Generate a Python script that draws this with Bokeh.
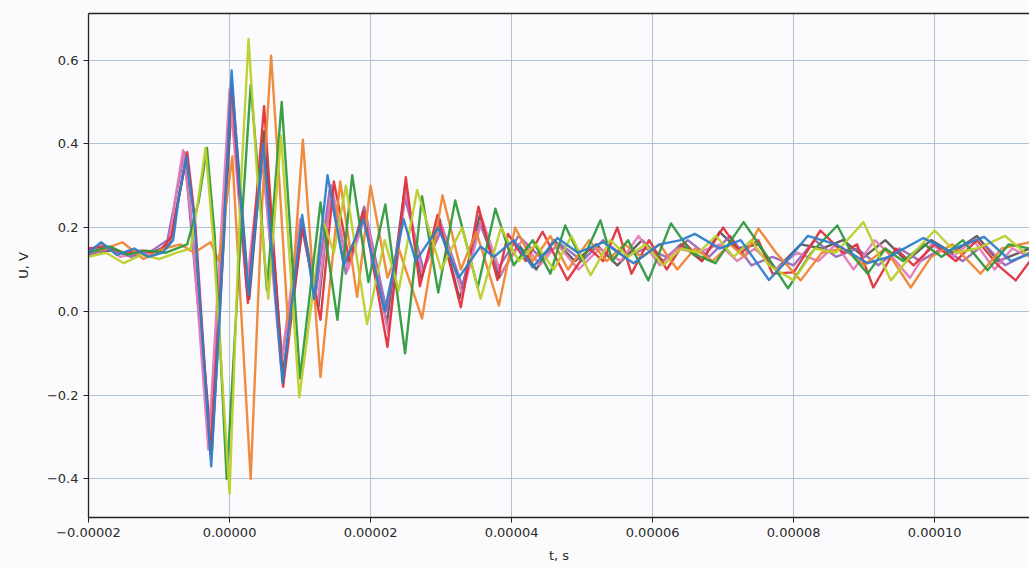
import numpy as np
from bokeh.plotting import figure
from bokeh.models import Range1d, FixedTicker, CustomJSTickFormatter, LinearAxis
from bokeh.embed import file_html
from bokeh.resources import INLINE

# ---- data (time in microseconds, voltage in V) ----
t_blue = [-20, -18.2, -16, -13.5, -11.5, -9.5, -8.0, -7.2, -6.1, -5.0, -2.6, -1.2, 0.3, 1.4, 2.7, 4.8, 7.5, 10.3, 12.0, 13.9,
          16.2, 19.0, 22.0, 24.7, 26.4, 29.6, 32.5, 35.6, 37.5, 40.3, 43.0, 46.5, 49.4, 53.0, 57.3, 61.0,
          64.0, 66.0, 69.5, 72.5, 76.5, 79.0, 82.0, 86.0, 90.5, 93.5, 98.4, 102.0, 107.0, 110.8, 113.5]
u_blue = [0.14, 0.165, 0.135, 0.15, 0.13, 0.14, 0.17, 0.27, 0.37, 0.22, -0.37, 0.05, 0.575, 0.30, 0.04, 0.40, -0.17, 0.23, 0.03, 0.325,
          0.11, 0.22, 0.00, 0.22, 0.12, 0.20, 0.08, 0.155, 0.13, 0.17, 0.105, 0.175, 0.14, 0.165, 0.115, 0.16,
          0.17, 0.185, 0.15, 0.17, 0.075, 0.12, 0.18, 0.16, 0.115, 0.13, 0.175, 0.145, 0.178, 0.12, 0.138]

t_red = [-20, -17.5, -15, -12.5, -10, -8.2, -7.1, -6.0, -4.9, -2.7, -1.3, 0.3, 1.4, 2.6, 4.9, 7.6, 10.3, 12.9, 14.8, 17.0, 19.0,
         22.4, 25.0, 27.0, 29.5, 32.8, 35.3, 38.0, 39.5, 42.0, 44.4, 47.9, 51.0, 53.0, 55.0, 57.0, 59.5,
         62.0, 64.5, 67.0, 70.0, 72.5, 75.0, 77.0, 80.0, 83.8, 87.0, 89.0, 91.3, 94.5, 97.0, 100.0, 103.0,
         106.0, 109.0, 111.5, 113.5]
u_red = [0.15, 0.155, 0.14, 0.145, 0.14, 0.18, 0.28, 0.38, 0.22, -0.34, 0.04, 0.55, 0.28, 0.02, 0.49, -0.18, 0.20, -0.02, 0.31, 0.12, 0.24,
         -0.085, 0.32, 0.06, 0.23, 0.01, 0.25, 0.075, 0.185, 0.12, 0.19, 0.075, 0.15, 0.12, 0.20, 0.09, 0.17,
         0.10, 0.165, 0.12, 0.20, 0.14, 0.17, 0.09, 0.093, 0.193, 0.14, 0.16, 0.057, 0.15, 0.11, 0.16, 0.12,
         0.17, 0.11, 0.074, 0.12]

t_pink = [-20, -18, -15.5, -13, -10.5, -8.5, -7.6, -6.6, -5.4, -3.0, 0.0, 2.4, 4.6, 7.3, 10.0, 12.5, 14.5, 16.8, 19.3,
          22.5, 25.0, 27.3, 30.0, 33.0, 35.8, 38.5, 41.5, 44.0, 46.5, 49.5, 52.5, 55.5, 58.0, 61.0, 63.5,
          66.5, 69.5, 72.0, 74.5, 77.5, 80.5, 83.5, 86.0, 88.5, 91.5, 94.0, 96.5, 99.5, 102.5, 105.5, 108.5,
          111.0, 113.5]
u_pink = [0.145, 0.16, 0.13, 0.14, 0.135, 0.17, 0.28, 0.385, 0.22, -0.33, 0.53, 0.06, 0.38, -0.13, 0.22, 0.02, 0.30, 0.10, 0.23,
          -0.05, 0.29, 0.09, 0.21, 0.04, 0.22, 0.09, 0.17, 0.11, 0.16, 0.10, 0.15, 0.12, 0.18, 0.11, 0.15,
          0.14, 0.16, 0.12, 0.15, 0.10, 0.14, 0.12, 0.16, 0.10, 0.17, 0.13, 0.08, 0.16, 0.13, 0.17, 0.10,
          0.15, 0.13]

t_purple = [-20, -17, -14, -11, -8.8, -6.4, -2.8, 0.2, 2.5, 4.7, 7.4, 10.2, 12.3, 14.2, 16.5, 19.1, 22.3,
            24.9, 27.5, 30.2, 33.0, 35.5, 38.0, 41.0, 44.0, 47.0, 50.0, 53.0, 56.0, 59.0, 62.0, 65.0, 68.0,
            71.0, 74.0, 77.0, 80.0, 83.0, 86.0, 89.0, 92.0, 95.0, 98.0, 101.0, 104.0, 107.0, 110.0, 113.5]
u_purple = [0.135, 0.15, 0.13, 0.145, 0.17, 0.38, -0.30, 0.50, 0.05, 0.36, -0.12, 0.21, 0.05, 0.29, 0.09, 0.25, 0.00,
            0.27, 0.10, 0.20, 0.06, 0.21, 0.10, 0.18, 0.13, 0.16, 0.12, 0.17, 0.13, 0.15, 0.13, 0.17, 0.13,
            0.18, 0.11, 0.13, 0.11, 0.17, 0.13, 0.15, 0.11, 0.15, 0.12, 0.15, 0.12, 0.16, 0.11, 0.14]

t_gray = [-20, -17, -14, -11, -8.5, -6.2, -2.5, 0.4, 2.8, 4.9, 7.6, 10.4, 12.6, 14.4, 16.6, 19.2, 22.3,
          24.9, 27.2, 29.8, 32.6, 35.5, 38.2, 41.0, 43.5, 46.0, 49.0, 52.0, 55.0, 58.5, 61.5, 64.0, 67.0,
          69.5, 72.0, 75.0, 77.5, 81.0, 84.0, 87.0, 90.0, 93.0, 96.0, 99.5, 102.5, 106.0, 109.0, 113.5]
u_gray = [0.14, 0.145, 0.135, 0.14, 0.16, 0.36, -0.33, 0.53, 0.03, 0.43, -0.15, 0.21, 0.01, 0.30, 0.12, 0.23, -0.03,
          0.30, 0.08, 0.22, 0.03, 0.23, 0.08, 0.16, 0.10, 0.17, 0.12, 0.16, 0.11, 0.17, 0.12, 0.16, 0.12,
          0.19, 0.15, 0.16, 0.10, 0.16, 0.15, 0.17, 0.13, 0.17, 0.12, 0.17, 0.14, 0.18, 0.12, 0.15]

t_green = [-20, -17, -14.5, -12, -9, -6.0, -4.4, -3.2, -2.1, -0.4, 1.3, 3.0, 4.2, 5.3, 7.4, 10.0, 12.9, 15.3, 17.4, 19.7, 22.1,
           24.9, 27.3, 29.6, 32.0, 35.2, 37.7, 40.3, 43.0, 45.5, 47.6, 50.0, 52.6, 54.3, 56.5, 59.4, 62.6,
           65.5, 68.9, 72.9, 75.5, 79.2, 82.5, 86.2, 88.5, 90.5, 93.0, 95.5, 98.5, 101.0, 104.0, 107.5,
           110.5, 113.5]
u_green = [0.14, 0.155, 0.135, 0.145, 0.14, 0.16, 0.26, 0.39, 0.18, -0.40, 0.10, 0.54, 0.30, 0.05, 0.50, -0.16, 0.26, -0.02, 0.325, 0.07, 0.255,
           -0.10, 0.275, 0.045, 0.265, 0.057, 0.245, 0.11, 0.17, 0.09, 0.205, 0.12, 0.217, 0.12, 0.17, 0.074, 0.21,
           0.14, 0.115, 0.213, 0.15, 0.055, 0.14, 0.205, 0.13, 0.09, 0.15, 0.12, 0.16, 0.13, 0.17, 0.098,
           0.16, 0.15]

t_olive = [-20, -17.5, -15, -12.5, -10, -7.5, -5.5, -4.5, -3.4, -2.3, 0.0, 1.6, 2.7, 3.9, 5.5, 7.3, 9.9, 13.2, 14.8, 16.5, 19.5,
           22.0, 24.0, 26.6, 30.0, 33.0, 35.6, 38.5, 41.0, 43.5, 46.0, 48.5, 51.2, 54.0, 56.5, 59.0, 61.5,
           64.0, 66.5, 69.0, 71.5, 74.0, 76.5, 80.0, 83.0, 86.0, 89.9, 93.8, 96.5, 100.0, 103.0, 106.0,
           110.0, 113.5]
u_olive = [0.13, 0.14, 0.115, 0.135, 0.125, 0.14, 0.15, 0.26, 0.39, 0.17, -0.435, 0.30, 0.65, 0.33, 0.03, 0.42, -0.205, 0.22, 0.14, 0.30, -0.03,
           0.17, 0.05, 0.29, 0.10, 0.20, 0.03, 0.20, 0.12, 0.16, 0.10, 0.18, 0.086, 0.17, 0.13, 0.16, 0.11,
           0.15, 0.14, 0.18, 0.13, 0.17, 0.11, 0.074, 0.15, 0.14, 0.213, 0.074, 0.13, 0.193, 0.14, 0.15,
           0.18, 0.13]

t_orange = [-20, -17.5, -15.2, -12.2, -9.2, -7.0, -5.0, -2.7, -1.5, 0.4, 3.0, 4.6, 5.9, 7.1, 8.4, 10.4, 12.9, 15.7, 18.1,
            20.0, 22.4, 24.0, 27.3, 30.2, 32.8, 35.0, 38.2, 40.5, 43.0, 45.5, 48.0, 51.0, 53.5, 56.0, 58.5,
            61.0, 63.5, 66.0, 68.5, 71.0, 73.0, 75.0, 77.5, 81.0, 84.0, 87.0, 90.0, 93.0, 96.6, 99.5, 102.5,
            106.5, 109.5, 113.5]
u_orange = [0.14, 0.15, 0.165, 0.125, 0.15, 0.16, 0.14, 0.165, 0.12, 0.37, -0.40, 0.25, 0.61, 0.30, -0.06, 0.41, -0.157, 0.31, 0.034,
            0.30, 0.08, 0.15, -0.017, 0.277, 0.10, 0.19, 0.014, 0.20, 0.12, 0.18, 0.10, 0.17, 0.12, 0.16, 0.13,
            0.16, 0.10, 0.15, 0.12, 0.16, 0.13, 0.198, 0.14, 0.074, 0.14, 0.15, 0.11, 0.15, 0.057, 0.13, 0.16,
            0.09, 0.15, 0.165]

x_ticks = [-0.00002, 0.0, 0.00002, 0.00004, 0.00006, 0.00008, 0.00010]
y_ticks = [-0.4, -0.2, 0.0, 0.2, 0.4, 0.6]

series = [
    (t_gray, u_gray, "#5e5656"),
    (t_purple, u_purple, "#9a68b8"),
    (t_pink, u_pink, "#e57bb6"),
    (t_red, u_red, "#e0323c"),
    (t_orange, u_orange, "#ef8632"),
    (t_green, u_green, "#2f9a3c"),
    (t_olive, u_olive, "#bccf2a"),
    (t_blue, u_blue, "#2f80c8"),
]

BG = "#fbfbfd"
p = figure(width=1029, height=567, output_backend="svg", toolbar_location=None,
           x_range=Range1d(-0.00002, 0.00011345), y_range=Range1d(-0.492, 0.711),
           min_border_left=88, min_border_right=0, min_border_top=13, min_border_bottom=50,
           background_fill_color=BG, border_fill_color=BG)
p.outline_line_color = None

for t, u, c in series:
    p.line(np.array(t) * 1e-6, u, line_color=c, line_width=2.4, line_alpha=0.95, line_join="round")

minus_fmt_x = CustomJSTickFormatter(code="""
    const s = Math.abs(tick).toFixed(5);
    return (tick < -1e-12 ? '\u2212' : '') + s;
""")
minus_fmt_y = CustomJSTickFormatter(code="""
    const s = Math.abs(tick).toFixed(1);
    return (tick < -1e-9 ? '\u2212' : '') + s;
""")

for ax in (p.xaxis[0], p.yaxis[0]):
    ax.axis_line_color = "#222222"
    ax.axis_line_width = 1.3
    ax.major_tick_line_color = "#222222"
    ax.major_tick_out = 5
    ax.major_tick_in = 0
    ax.minor_tick_line_color = None
    ax.major_label_text_font = "DejaVu Sans"
    ax.major_label_text_font_size = "13px"
    ax.major_label_text_color = "#2a2a2a"
    ax.axis_label_text_font = "DejaVu Sans"
    ax.axis_label_text_font_size = "13px"
    ax.axis_label_text_font_style = "normal"
    ax.axis_label_text_color = "#2a2a2a"

p.xaxis[0].ticker = FixedTicker(ticks=x_ticks)
p.yaxis[0].ticker = FixedTicker(ticks=y_ticks)
p.xaxis[0].formatter = minus_fmt_x
p.yaxis[0].formatter = minus_fmt_y
p.xaxis[0].axis_label = "t, s"
p.yaxis[0].axis_label = "U, V"
p.xaxis[0].major_label_standoff = 5
p.xaxis[0].axis_label_standoff = 8
p.yaxis[0].major_label_standoff = 5
p.yaxis[0].axis_label_standoff = 13

top_ax = LinearAxis(axis_line_color="#222222", axis_line_width=1.3,
                    major_tick_line_color=None, minor_tick_line_color=None,
                    major_label_text_font_size="0px", major_label_standoff=0,
                    ticker=FixedTicker(ticks=[]))
p.add_layout(top_ax, "above")

p.xgrid.ticker = FixedTicker(ticks=x_ticks)
p.ygrid.ticker = FixedTicker(ticks=y_ticks)
p.grid.grid_line_color = "#b3c3d6"
p.grid.grid_line_width = 1
p.grid.grid_line_alpha = 1.0

open("out.html", "w").write(file_html(p, INLINE))
